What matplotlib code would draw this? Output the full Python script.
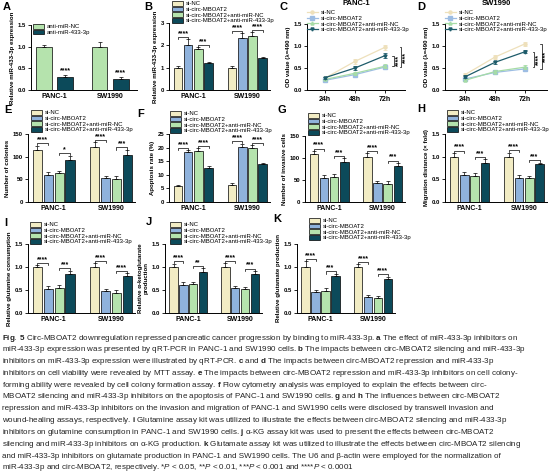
import numpy as np
import matplotlib
matplotlib.use('Agg')
import matplotlib.pyplot as plt
from matplotlib.patches import Patch
from matplotlib.lines import Line2D

plt.rcParams['font.family'] = ['Liberation Sans', 'DejaVu Sans']
plt.rcParams['mathtext.fontset'] = 'custom'
plt.rcParams['mathtext.rm'] = 'Liberation Sans'
plt.rcParams['mathtext.bf'] = 'Liberation Sans:bold'
plt.rcParams['mathtext.it'] = 'Liberation Sans:italic'

W, H = 553, 474

cells = ['PANC-1', 'SW1990']
hours = ['24h', '48h', '72h']
groups_a = ['anti-miR-NC', 'anti-miR-433-3p']
groups = ['si-NC', 'si-circ-MBOAT2', 'si-circ-MBOAT2+anti-miR-NC',
          'si-circ-MBOAT2+anti-miR-433-3p']

# A
a_vals = [[1.00, 0.30], [1.00, 0.25]]
a_err = [[0.05, 0.04], [0.10, 0.04]]
# B
b_vals = [[1.00, 2.02, 1.85, 1.20], [1.00, 2.35, 2.40, 1.42]]
b_err = [[0.07, 0.25, 0.07, 0.06], [0.06, 0.18, 0.18, 0.08]]
b_stars = [['****', '***'], ['****', '****']]
# C / D  (per group, over 24h 48h 72h)
c_vals = [[0.27, 0.65, 0.97], [0.22, 0.35, 0.52], [0.24, 0.38, 0.54], [0.28, 0.50, 0.78]]
c_err = [[0.02, 0.05, 0.05], [0.02, 0.03, 0.03], [0.02, 0.03, 0.04], [0.02, 0.05, 0.05]]
d_vals = [[0.35, 0.75, 1.05], [0.25, 0.40, 0.48], [0.22, 0.42, 0.52], [0.30, 0.63, 0.87]]
d_err = [[0.03, 0.04, 0.05], [0.02, 0.04, 0.05], [0.02, 0.04, 0.05], [0.03, 0.04, 0.04]]
# E
e_vals = [[115, 60, 63, 92], [122, 52, 50, 103]]
e_err = [[9, 6, 6, 10], [10, 5, 7, 12]]
e_stars = [['****', '*'], ['****', '***']]
# F
f_vals = [[5.8, 18.2, 18.6, 12.4], [6.3, 20.4, 20.0, 13.9]]
f_err = [[0.6, 0.8, 1.2, 0.9], [0.7, 1.0, 0.8, 0.5]]
f_stars = [['****', '****'], ['****', '****']]
# G
g_vals = [[108, 55, 57, 90], [103, 43, 42, 82]]
g_err = [[8, 6, 6, 9], [8, 5, 5, 7]]
g_stars = [['****', '***'], ['****', '***']]
# H
h_vals = [[1.00, 0.60, 0.58, 0.87], [1.00, 0.53, 0.52, 0.83]]
h_err = [[0.08, 0.06, 0.06, 0.07], [0.09, 0.06, 0.05, 0.04]]
h_stars = [['****', '***'], ['****', '***']]
# I
i_vals = [[1.00, 0.52, 0.55, 0.85], [1.00, 0.47, 0.44, 0.80]]
i_err = [[0.04, 0.06, 0.05, 0.07], [0.08, 0.05, 0.05, 0.06]]
i_stars = [['****', '***'], ['****', '****']]
# J
j_vals = [[1.00, 0.60, 0.62, 0.90], [1.00, 0.55, 0.53, 0.85]]
j_err = [[0.07, 0.08, 0.05, 0.07], [0.08, 0.04, 0.04, 0.06]]
j_stars = [['****', '**'], ['****', '***']]
# K
k_vals = [[1.00, 0.45, 0.48, 0.80], [1.00, 0.35, 0.33, 0.75]]
k_err = [[0.12, 0.04, 0.07, 0.05], [0.06, 0.05, 0.04, 0.04]]
k_stars = [['****', '***'], ['****', '****']]

bar_colors = ['#f2ecc4', '#8fb2dc', '#b5e3ad', '#0c4a5a']
line_colors = ['#eee0bb', '#9dbde3', '#a6dca6', '#1d5b6a']
a_colors = ['#b5e3ad', '#0c4a5a']

fig = plt.figure(figsize=(W / 100, H / 100), dpi=100)


def rect(x0, y0, x1, y1):
    # pixel box -> figure fraction
    return [x0 / W, 1 - y1 / H, (x1 - x0) / W, (y1 - y0) / H]


def style(ax, ylim, yticks, ylabel, fmt):
    for s in ['top', 'right']:
        ax.spines[s].set_visible(False)
    for s in ['left', 'bottom']:
        ax.spines[s].set_linewidth(0.7)
    ax.set_ylim(*ylim)
    ax.set_yticks(yticks)
    ax.set_yticklabels([fmt.format(t) for t in yticks])
    ax.tick_params(axis='y', length=2, width=0.6, labelsize=4.3, pad=1.5)
    ax.tick_params(axis='x', length=0, labelsize=5, pad=2)
    for t in ax.get_xticklabels() + ax.get_yticklabels():
        t.set_fontweight('bold')
    ax.set_ylabel(ylabel, fontsize=4.4, fontweight='bold', labelpad=2)


def letter(ch, x, y):
    fig.text(x / W, 1 - y / H, ch, fontsize=8, fontweight='bold', va='center', ha='left')


def legend(ax, handles, labels, x, y):
    ax.legend(handles, labels, loc='upper left', bbox_to_anchor=(x / W, 1 - y / H),
              bbox_transform=fig.transFigure, frameon=False, fontsize=4.3,
              borderaxespad=0, borderpad=0, labelspacing=0.05, handlelength=1.8,
              handleheight=0.8, handletextpad=0.5)


def bar_panel(box, vals, errs, stars, ylim, yticks, ylabel, fmt, ch, lxy, legxy):
    ax = fig.add_axes(rect(*box))
    slot, bw = 0.19, 0.16
    offs = (np.arange(4) - 1.5) * slot
    span = ylim[1] - ylim[0]
    for ci in range(2):
        xs = ci + offs
        v = np.array(vals[ci], float)
        e = np.array(errs[ci], float)
        ax.bar(xs, v, width=bw, color=bar_colors, edgecolor='black', linewidth=0.5, zorder=2)
        ax.errorbar(xs, v, yerr=[np.zeros(4), e], fmt='none', ecolor='black',
                    elinewidth=0.5, capsize=1.5, capthick=0.5, zorder=3)
        for k, (i0, i1) in enumerate([(0, 1), (2, 3)]):
            top = max(v[i0] + e[i0], v[i1] + e[i1]) + 0.035 * span
            tk = 0.03 * span
            ax.plot([xs[i0], xs[i0], xs[i1], xs[i1]], [top - tk, top, top, top - tk],
                    color='black', lw=0.5, zorder=3)
            ax.text((xs[i0] + xs[i1]) / 2, top, stars[ci][k], ha='center',
                    va='bottom', fontsize=5, fontweight='bold')
    ax.set_xlim(-0.45, 1.42)
    ax.set_xticks([0, 1])
    ax.set_xticklabels(cells)
    style(ax, ylim, yticks, ylabel, fmt)
    handles = [Patch(facecolor=c, edgecolor='black', linewidth=0.5) for c in bar_colors]
    legend(ax, handles, groups, *legxy)
    letter(ch, *lxy)
    return ax


def line_panel(box, vals, errs, title, xlim, ch, lxy, legxy, brackets):
    ax = fig.add_axes(rect(*box))
    x = np.arange(3)
    markers = ['o', 's', '^', 'v']
    handles = []
    for gi in range(4):
        ax.errorbar(x, vals[gi], yerr=errs[gi], color=line_colors[gi], marker=markers[gi],
                    markersize=2.2, lw=0.9, elinewidth=0.6, capsize=1.2, capthick=0.6,
                    zorder=3 + gi)
        handles.append(Line2D([], [], color=line_colors[gi], marker=markers[gi],
                              markersize=2.2, lw=0.9))
    for (g0, g1, bx) in brackets:
        y0, y1 = vals[g0][2], vals[g1][2]
        ax.plot([bx - 0.05, bx, bx, bx - 0.05], [y0, y0, y1, y1], color='black', lw=0.5,
                clip_on=False)
        ax.text(bx + 0.03, (y0 + y1) / 2, '****', rotation=90, ha='left', va='center',
                fontsize=5, fontweight='bold')
    ax.set_xlim(*xlim)
    ax.set_xticks(x)
    ax.set_xticklabels(hours)
    style(ax, (0, 1.5), [0, 0.5, 1.0, 1.5], 'OD value (λ=490 nm)', '{:.1f}')
    ax.tick_params(axis='x', length=2, width=0.6)
    ax.set_title(title, fontsize=5.5, fontweight='bold', pad=14)
    legend(ax, handles, groups, *legxy)
    letter(ch, *lxy)


# --- A ---
axA = fig.add_axes(rect(31, 25, 137, 90))
for ci in range(2):
    xs = ci + np.array([-0.19, 0.19])
    v = np.array(a_vals[ci])
    e = np.array(a_err[ci])
    axA.bar(xs, v, width=0.28, color=a_colors, edgecolor='black', linewidth=0.5, zorder=2)
    axA.errorbar(xs, v, yerr=[np.zeros(2), e], fmt='none', ecolor='black', elinewidth=0.5,
                 capsize=1.5, capthick=0.5, zorder=3)
    axA.text(xs[1], v[1] + e[1] + 0.02, '****', ha='center', va='bottom', fontsize=5,
             fontweight='bold')
axA.set_xlim(-0.42, 1.48)
axA.set_xticks([0, 1])
axA.set_xticklabels(cells)
style(axA, (0, 1.5), [0, 0.5, 1.0, 1.5], 'Relative miR-433-3p expression', '{:.1f}')
legend(axA, [Patch(facecolor=c, edgecolor='black', linewidth=0.5) for c in a_colors],
       groups_a, 33, 24)
letter('A', 3, 7)

bar_panel((169, 23, 270, 90), b_vals, b_err, b_stars, (0, 3), [0, 1, 2, 3],
          'Relative miR-433-3p expression', '{:.0f}', 'B', (144, 7), (172, 1))
line_panel((307, 24, 405, 90), c_vals, c_err, 'PANC-1', (-0.6, 2.67), 'C', (279, 7),
           (307, 10), [(0, 1, 2.55), (3, 2, 2.3)])
line_panel((445, 24, 547, 90), d_vals, d_err, 'SW1990', (-0.67, 2.73), 'D', (417, 7),
           (445, 10), [(0, 1, 2.55), (3, 2, 2.3)])

bar_panel((28, 134, 135, 202), e_vals, e_err, e_stars, (0, 150), [0, 50, 100, 150],
          'Number of colonies', '{:.0f}', 'E', (4, 110), (31, 110))
bar_panel((169, 134, 270, 202), f_vals, f_err, f_stars, (0, 25), [0, 5, 10, 15, 20, 25],
          'Apoptosis rate (%)', '{:.0f}', 'F', (137, 114), (170, 111))
bar_panel((305, 136, 405, 202), g_vals, g_err, g_stars, (0, 150), [0, 50, 100, 150],
          'Number of invasive cells', '{:.0f}', 'G', (277, 110), (308, 113))
bar_panel((445, 134, 547, 202), h_vals, h_err, h_stars, (0, 1.5), [0, 0.5, 1.0, 1.5],
          'Migration distance (× fold)', '{:.1f}', 'H', (417, 109), (447, 110))

bar_panel((28, 244, 135, 313), i_vals, i_err, i_stars, (0, 1.5), [0, 0.5, 1.0, 1.5],
          'Relative glutamine consumption', '{:.1f}', 'I', (4, 223), (30, 222))
bar_panel((165, 244, 262, 313), j_vals, j_err, j_stars, (0, 1.5), [0, 0.5, 1.0, 1.5],
          'Relative α-ketoglutarate\nproduction', '{:.1f}', 'J', (146, 222), (170, 222))
bar_panel((297, 244, 395, 313), k_vals, k_err, k_stars, (0, 1.5), [0, 0.5, 1.0, 1.5],
          'Relative glutamate production', '{:.1f}', 'K', (273, 219), (309, 218))

caption = [
    r"$\mathbf{Fig.\ 5}$ Circ-MBOAT2 downregulation repressed pancreatic cancer progression by binding to miR-433-3p. $\mathbf{a}$ The effect of miR-433-3p inhibitors on",
    r"miR-433-3p expression was presented by qRT-PCR in PANC-1 and SW1990 cells. $\mathbf{b}$ The impacts between circ-MBOAT2 silencing and miR-433-3p",
    r"inhibitors on miR-433-3p expression were illustrated by qRT-PCR. $\mathbf{c}$ and $\mathbf{d}$ The impacts between circ-MBOAT2 repression and miR-433-3p",
    r"inhibitors on cell viability were revealed by MTT assay. $\mathbf{e}$ The impacts between circ-MBOAT2 repression and miR-433-3p inhibitors on cell colony-",
    r"forming ability were revealed by cell colony formation assay. $\mathbf{f}$ Flow cytometry analysis was employed to explain the effects between circ-",
    r"MBOAT2 silencing and miR-433-3p inhibitors on the apoptosis of PANC-1 and SW1990 cells. $\mathbf{g}$ and $\mathbf{h}$ The influences between circ-MBOAT2",
    r"repression and miR-433-3p inhibitors on the invasion and migration of PANC-1 and SW1990 cells were disclosed by transwell invasion and",
    r"wound-healing assays, respectively. $\mathbf{i}$ Glutamine assay kit was utilized to illustrate the effects between circ-MBOAT2 silencing and miR-433-3p",
    r"inhibitors on glutamine consumption in PANC-1 and SW1990 cells. $\mathbf{j}$ α-KG assay kit was used to present the effects between circ-MBOAT2",
    r"silencing and miR-433-3p inhibitors on α-KG production. $\mathbf{k}$ Glutamate assay kit was utilized to illustrate the effects between circ-MBOAT2 silencing",
    r"and miR-433-3p inhibitors on glutamate production in PANC-1 and SW1990 cells. The U6 and β-actin were employed for the normalization of",
    r"miR-433-3p and circ-MBOAT2, respectively. *$\mathit{P}$ < 0.05, **$\mathit{P}$ < 0.01, ***$\mathit{P}$ < 0.001 and ****$\mathit{P}$ < 0.0001",
]
for n, line in enumerate(caption):
    fig.text(2 / W, 1 - (338 + n * 11.8) / H, line, fontsize=5.75, color='#222222',
             ha='left', va='center')

fig.savefig('out.png', dpi=100)
